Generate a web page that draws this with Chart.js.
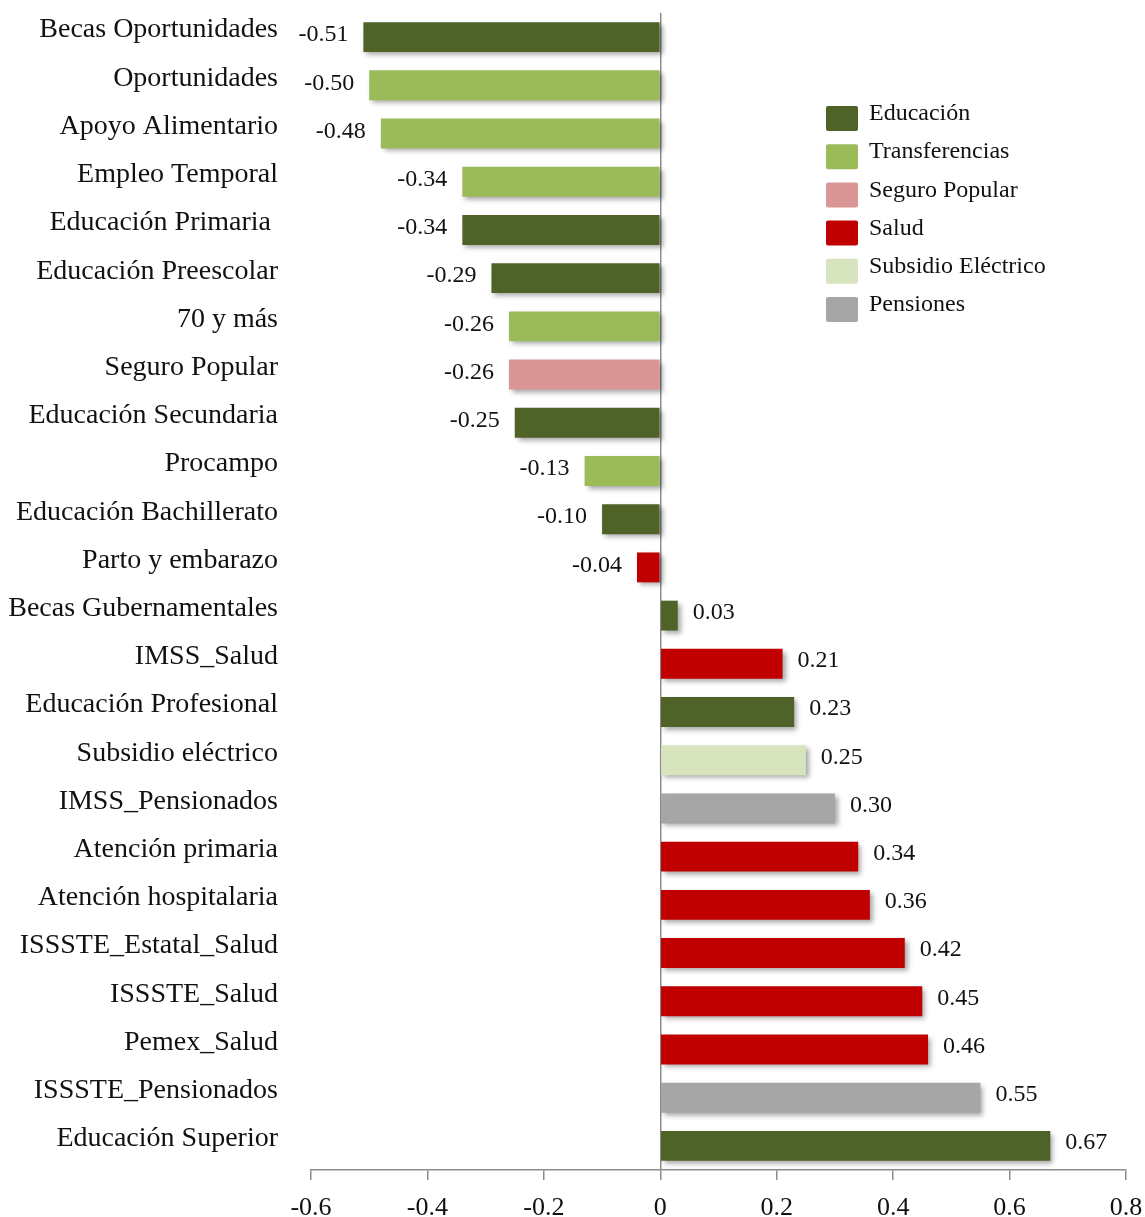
<!DOCTYPE html>
<html>
<head>
<meta charset="utf-8">
<script src="https://cdn.jsdelivr.net/npm/chart.js@4.4.0/dist/chart.umd.min.js"></script>
<style>
  html, body { margin: 0; padding: 0; background: #fff; }
  .canvas { width: 1145px; height: 1217px; }
</style>
</head>
<body>
<div class="canvas">
  <canvas id="chart" width="1145" height="1217"></canvas>
</div>
<script>
const labels = [
  'Becas Oportunidades', 'Oportunidades', 'Apoyo Alimentario', 'Empleo Temporal',
  'Educación Primaria ', 'Educación Preescolar', '70 y más', 'Seguro Popular',
  'Educación Secundaria', 'Procampo', 'Educación Bachillerato', 'Parto y embarazo',
  'Becas Gubernamentales', 'IMSS_Salud', 'Educación Profesional', 'Subsidio eléctrico',
  'IMSS_Pensionados', 'Atención primaria', 'Atención hospitalaria', 'ISSSTE_Estatal_Salud',
  'ISSSTE_Salud', 'Pemex_Salud', 'ISSSTE_Pensionados', 'Educación Superior'
]
const values = [
  -0.51, -0.50, -0.48, -0.34, -0.34, -0.29, -0.26, -0.26, -0.25, -0.13, -0.10, -0.04,
  0.03, 0.21, 0.23, 0.25, 0.30, 0.34, 0.36, 0.42, 0.45, 0.46, 0.55, 0.67
]
const groups = [
  'Educación', 'Transferencias', 'Transferencias', 'Transferencias',
  'Educación', 'Educación', 'Transferencias', 'Seguro Popular',
  'Educación', 'Transferencias', 'Educación', 'Salud',
  'Educación', 'Salud', 'Educación', 'Subsidio Eléctrico',
  'Pensiones', 'Salud', 'Salud', 'Salud',
  'Salud', 'Salud', 'Pensiones', 'Educación'
]
const groupNames = ['Educación', 'Transferencias', 'Seguro Popular', 'Salud', 'Subsidio Eléctrico', 'Pensiones']
const groupColors = ['#4f6228', '#9bbb59', '#d99694', '#c00000', '#d7e4bd', '#a6a6a6']
const xTicks = [-0.6, -0.4, -0.2, 0, 0.2, 0.4, 0.6, 0.8]

const FONT = '"Liberation Serif", "DejaVu Serif", serif'
const colorOf = g => groupColors[groupNames.indexOf(g)]

// soft drop shadow under bars
const shadowPlugin = {
  id: 'barShadow',
  beforeDatasetsDraw (chart) {
    const ctx = chart.ctx
    ctx.save()
    ctx.shadowColor = 'rgba(0,0,0,0.35)'
    ctx.shadowBlur = 5
    ctx.shadowOffsetX = 3
    ctx.shadowOffsetY = 3
  },
  afterDatasetsDraw (chart) {
    chart.ctx.restore()
  }
}

// value labels at the end of each bar
const valueLabels = {
  id: 'valueLabels',
  afterDatasetsDraw (chart) {
    const ctx = chart.ctx
    const meta = chart.getDatasetMeta(0)
    ctx.save()
    ctx.font = '24px ' + FONT
    ctx.fillStyle = '#111'
    ctx.textBaseline = 'middle'
    meta.data.forEach((bar, i) => {
      const v = values[i]
      const txt = v.toFixed(2)
      if (v < 0) {
        ctx.textAlign = 'right'
        ctx.fillText(txt, bar.x - 15, bar.y - 2)
      } else {
        ctx.textAlign = 'left'
        ctx.fillText(txt, bar.x + 15, bar.y - 3)
      }
    })
    ctx.restore()
  }
}

// legend drawn inside the plot, top right
const boxLegend = {
  id: 'boxLegend',
  afterDraw (chart) {
    const ctx = chart.ctx
    ctx.save()
    ctx.font = '24px ' + FONT
    ctx.textBaseline = 'middle'
    ctx.textAlign = 'left'
    groupNames.forEach((name, i) => {
      const y = 106 + i * 38.2
      ctx.fillStyle = groupColors[i]
      ctx.beginPath()
      ctx.roundRect(826, y, 32, 25, 2)
      ctx.fill()
      ctx.fillStyle = '#111'
      ctx.fillText(name, 869, y + 8)
    })
    ctx.restore()
  }
}

const ctx = document.getElementById('chart').getContext('2d')
// eslint-disable-next-line
new Chart(ctx, {
  type: 'bar',
  data: {
    labels,
    datasets: [{
      data: values,
      backgroundColor: groups.map(colorOf),
      borderWidth: 0,
      barPercentage: 0.62,
      categoryPercentage: 1
    }]
  },
  options: {
    indexAxis: 'y',
    responsive: false,
    animation: false,
    layout: { padding: { top: 13, right: 19, left: 0, bottom: 0 } },
    plugins: {
      legend: { display: false },
      tooltip: { enabled: false }
    },
    scales: {
      x: {
        min: -0.6,
        max: 0.8,
        afterBuildTicks: axis => { axis.ticks = xTicks.map(v => ({ value: v })) },
        afterFit: axis => {
          axis.height = 47
          axis.paddingLeft = 0
          axis.paddingRight = 0
        },
        ticks: {
          font: { family: FONT, size: 26 },
          color: '#111',
          padding: 13,
          callback: v => String(Math.round(v * 10) / 10)
        },
        grid: {
          color: c => (c.tick && c.tick.value === 0 ? '#8c8c8c' : 'transparent'),
          tickColor: '#8c8c8c',
          tickLength: 10,
          lineWidth: 1.5
        },
        border: { display: true, color: '#8c8c8c', width: 1.5 }
      },
      y: {
        afterFit: axis => {
          axis.width = 311
          axis.paddingTop = 0
          axis.paddingBottom = 0
        },
        ticks: {
          font: { family: FONT, size: 28 },
          color: '#111',
          padding: 25,
          labelOffset: -7,
          autoSkip: false
        },
        grid: { display: false },
        border: { display: false }
      }
    }
  },
  plugins: [shadowPlugin, valueLabels, boxLegend]
})
</script>
</body>
</html>
